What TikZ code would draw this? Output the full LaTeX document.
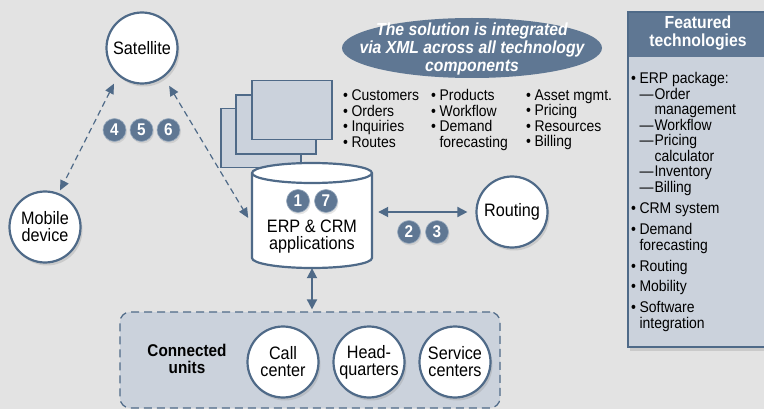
\documentclass[tikz,border=0pt]{standalone}
\usepackage{fontspec}
\setmainfont{Liberation Sans}[FakeStretch=0.9]
\usetikzlibrary{positioning,shapes.geometric,arrows.meta,shadows}

\definecolor{bggray}{HTML}{E3E3E3}
\definecolor{slate}{HTML}{4F6A88}
\definecolor{slatedark}{HTML}{5F7793}
\definecolor{slatelight}{HTML}{CBD2DC}
\definecolor{badgerim}{HTML}{9AABBE}

\newcommand{\bul}{\textbullet\hspace{3.5pt}}
\newcommand{\ind}{\hphantom{\bul}}
\newcommand{\subitm}{\ind\textemdash\hspace{1pt}}
\newcommand{\subind}{\ind\hphantom{\textemdash\hspace{1pt}}}

\begin{document}
\begin{tikzpicture}[x=1pt,y=-1pt,
  site/.style={circle,draw=slate,line width=2.2pt,fill=white,minimum size=71pt,
    inner sep=0pt,align=center,font=\fontsize{18}{17}\selectfont,
    drop shadow={opacity=0.25,shadow xshift=2pt,shadow yshift=-3pt}},
  badge/.style={circle,fill=slatedark,draw=badgerim,line width=0.6pt,minimum size=23pt,
    inner sep=0pt,text=white,font=\bfseries\fontsize{17}{17}\selectfont,
    drop shadow={opacity=0.2,shadow xshift=1pt,shadow yshift=-2pt}},
  link/.style={slate,line width=1.8pt,{Triangle[length=10pt,width=10pt]}-{Triangle[length=10pt,width=10pt]}},
  radio/.style={slate,line width=1.2pt,dash pattern=on 6pt off 4pt,
    {Triangle[length=10pt,width=9pt]}-{Triangle[length=10pt,width=9pt]}},
  window/.style={rectangle,draw=slate,line width=1.2pt,fill=slatelight,
    minimum width=80pt,minimum height=59pt},
  listtext/.style={anchor=north west,inner sep=0pt,align=left,
    font=\fontsize{15.5}{15.5}\selectfont}]

% page and background
\useasboundingbox (0,0) rectangle (764,409);
\fill[bggray] (0,0) rectangle (764,409);

% featured technologies panel
\draw[slate,line width=1.2pt,fill=slatelight,
  drop shadow={opacity=0.25,shadow xshift=2pt,shadow yshift=-4pt}] (628,12) rectangle (780,347);
\fill[slatedark] (628,12) rectangle (780,57);
\draw[slate,line width=1.2pt] (628,12) rectangle (780,347);
\node (feathead) [text=white,align=center,font=\bfseries\fontsize{17.5}{18}\selectfont]
  at (698,33) {Featured\\technologies};
\node (featlist) [listtext] at (631,72.5) {%
  \bul ERP package:\\
  \subitm Order\\
  \subind management\\
  \subitm Workflow\\
  \subitm Pricing\\
  \subind calculator\\
  \subitm Inventory\\
  \subitm Billing\\[6pt]
  \bul CRM system\\[5.5pt]
  \bul Demand\\
  \ind forecasting\\[5.5pt]
  \bul Routing\\[5pt]
  \bul Mobility\\[5.5pt]
  \bul Software\\
  \ind integration};

% XML note
\fill[slatedark] (472,48) ellipse [x radius=130pt,y radius=30pt];
\node (xmlnote) [text=white,align=center,font=\bfseries\itshape\fontsize{17.5}{18}\selectfont]
  at (472,49) {The solution is integrated\\via XML across all technology\\components};

% data lists
\node (datalist1) [listtext] at (343,89.5) {\bul Customers\\\bul Orders\\\bul Inquiries\\\bul Routes};
\node (datalist2) [listtext] at (431,89.5) {\bul Products\\\bul Workflow\\\bul Demand\\\ind forecasting};
\node (datalist3) [listtext] at (526,89.5) {\bul Asset mgmt.\\\bul Pricing\\\bul Resources\\\bul Billing};

% stacked screens
\node (win1) [window] at (261,138) {};
\node (win2) [window] at (276,124.5) {};
\node (win3) [window] at (292,110) {};

% ERP/CRM database
\node (erp) [minimum width=120pt,minimum height=105pt,inner sep=0pt] at (312,215.5) {};
\draw[slate,line width=2.2pt,fill=white]
  (252,173) -- (252,258) arc[start angle=180,end angle=360,x radius=60pt,y radius=10pt]
  -- (372,173) arc[start angle=0,end angle=180,x radius=60pt,y radius=10pt] -- cycle;
\draw[slate,line width=2.2pt] (252,173) arc[start angle=180,end angle=360,x radius=60pt,y radius=10pt];
\node (erptext) [align=center,font=\fontsize{18}{17}\selectfont] at (312,237)
  {ERP \& CRM\\applications};
\node (b1) [badge] at (298,201) {1};
\node (b7) [badge] at (326,201) {7};

% sites
\node (sat)  [site] at (142,48)  {Satellite};
\node (mob)  [site] at (45,227)  {Mobile\\device};
\node (rout) [site] at (512,212) {Routing};

% connected units
\node (units) [rectangle,rounded corners=10pt,draw=slate,line width=1.2pt,
  dash pattern=on 8pt off 5pt,fill=slatelight,minimum width=380pt,minimum height=96pt]
  at (310,360) {};
\node (unitslabel) [align=center,font=\bfseries\fontsize{17}{17}\selectfont] at (187,359)
  {Connected\\units};
\node (call) [site] at (283,362) {Call\\center};
\node (hq)   [site] at (369,362) {Head-\\quarters};
\node (svc)  [site] at (455,362) {Service\\centers};

% connectors
\draw[radio,shorten <=9pt,shorten >=3pt] (sat.229) -- (mob.68);
\draw[radio,shorten <=10pt,shorten >=7pt] (sat.307) -- (erp.188);
\draw[link] ([xshift=6pt]erp.east |- rout.west) -- ([xshift=-8pt]rout.west);
\draw[link] (erp.south) -- ([yshift=2pt]erp.south |- units.north);

% step badges
\node (b4) [badge] at (114.5,130) {4};
\node (b5) [badge] at (141.5,130) {5};
\node (b6) [badge] at (168.5,130) {6};
\node (b2) [badge] at (409,232) {2};
\node (b3) [badge] at (437,232) {3};
\end{tikzpicture}
\end{document}
